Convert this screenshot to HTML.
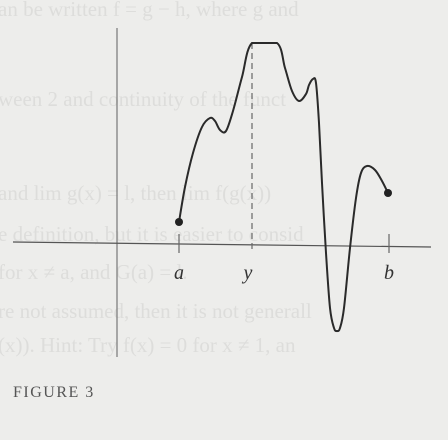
<!DOCTYPE html>
<html><head><meta charset="utf-8"><style>
html,body{margin:0;padding:0;background:#ededeb;}
svg{display:block;}
.serif{font-family:"Liberation Serif",serif;}
</style></head><body>
<svg id="fig" width="448" height="440" viewBox="0 0 448 440" xmlns="http://www.w3.org/2000/svg">
<rect width="448" height="440" fill="#ededeb"/>
<g class="serif" font-size="21" fill="#dddddb">
<text x="-2" y="16">an be written f = g − h, where g and</text>
<text x="-2" y="106">ween 2 and continuity of the funct</text>
<text x="-2" y="200">and lim g(x) = l, then lim f(g(x))</text>
<text x="-2" y="241">e definition, but it is easier to consid</text>
<text x="-2" y="279">for x ≠ a, and G(a) = l.</text>
<text x="-2" y="318">re not assumed, then it is not generall</text>
<text x="-2" y="352">(x)). Hint: Try f(x) = 0 for x ≠ 1, an</text>
</g>
<line x1="117" y1="28" x2="117" y2="357" stroke="#777" stroke-width="1.2"/>
<line x1="13" y1="242" x2="431" y2="247" stroke="#555" stroke-width="1.2"/>
<g id="marks"></g>
<g class="serif" font-style="italic" font-size="20" fill="#333" text-anchor="middle">
<text x="179" y="279">a</text>
<text x="248" y="279">y</text>
<text x="389" y="279">b</text>
</g>
<text class="serif" x="13" y="397" font-size="16" letter-spacing="1.5" fill="#555">FIGURE 3</text>
</svg>
<script>
const curveX = [6.2,6.8,7.6,8.5,9.3,9.8,10.3,10.9,11.6,12.5,13.5,16.0,16.8,17.5,18.2,18.9,19.2,19.6,19.9,20.2,20.5,20.9,21.3,21.7,22.0,22.3,22.7,23.3,23.9,24.4,25.0,25.8,26.5,27.1];
const curveY = [2.1,5.6,9.0,11.6,12.5,12.2,11.3,11.2,13.2,16.6,20.0,20.0,17.5,15.2,14.2,14.9,15.8,16.4,16.0,12.0,6.0,-1.0,-6.5,-8.5,-8.8,-8.5,-6.5,-0.5,4.5,7.0,7.7,7.3,6.2,5.0];
const pointA = 6.2, pointB = 27.2, pointY = 13.5;
function sx(v){return 117+v*10;}
function sy(v){return 243-v*10;}
const ns="http://www.w3.org/2000/svg";
const g=document.getElementById('marks');
const P=curveX.map((x,i)=>[sx(x),sy(curveY[i])]);
let d="M"+P[0][0]+","+P[0][1];
for(let i=0;i<P.length-1;i++){
  const p0=P[Math.max(0,i-1)],p1=P[i],p2=P[i+1],p3=P[Math.min(P.length-1,i+2)];
  if(i===10){d+=" L"+p2[0]+","+p2[1];continue;}
  const c1=[p1[0]+(p2[0]-p0[0])/6,p1[1]+(p2[1]-p0[1])/6];
  const c2=[p2[0]-(p3[0]-p1[0])/6,p2[1]-(p3[1]-p1[1])/6];
  d+=" C"+c1[0]+","+c1[1]+" "+c2[0]+","+c2[1]+" "+p2[0]+","+p2[1];
}
const dash=document.createElementNS(ns,'line');


dash.setAttribute('x1',sx(pointY));dash.setAttribute('x2',sx(pointY));
dash.setAttribute('y1',sy(20));dash.setAttribute('y2',sy(-1));
dash.setAttribute('stroke','#666');dash.setAttribute('stroke-width','1.2');dash.setAttribute('stroke-dasharray','6,4');
g.appendChild(dash);
[[pointA,'tick-a'],[pointB,'tick-b']].forEach(t=>{
  const l=document.createElementNS(ns,'line');
  
  
  l.setAttribute('x1',sx(t[0]));l.setAttribute('x2',sx(t[0]));
  l.setAttribute('y1',sy(0.9));l.setAttribute('y2',sy(-1));
  l.setAttribute('stroke','#666');l.setAttribute('stroke-width','1.2');
  g.appendChild(l);
});
const path=document.createElementNS(ns,'path');


path.setAttribute('d',d);path.setAttribute('fill','none');path.setAttribute('stroke','#2a2a2a');path.setAttribute('stroke-width','2');
g.appendChild(path);
[[0,'endpoint-a'],[P.length-1,'endpoint-b']].forEach(e=>{
  const c=document.createElementNS(ns,'circle');
  
  
  c.setAttribute('cx',P[e[0]][0]);c.setAttribute('cy',P[e[0]][1]);c.setAttribute('r','4');c.setAttribute('fill','#222');
  g.appendChild(c);
});
</script>
</body></html>
